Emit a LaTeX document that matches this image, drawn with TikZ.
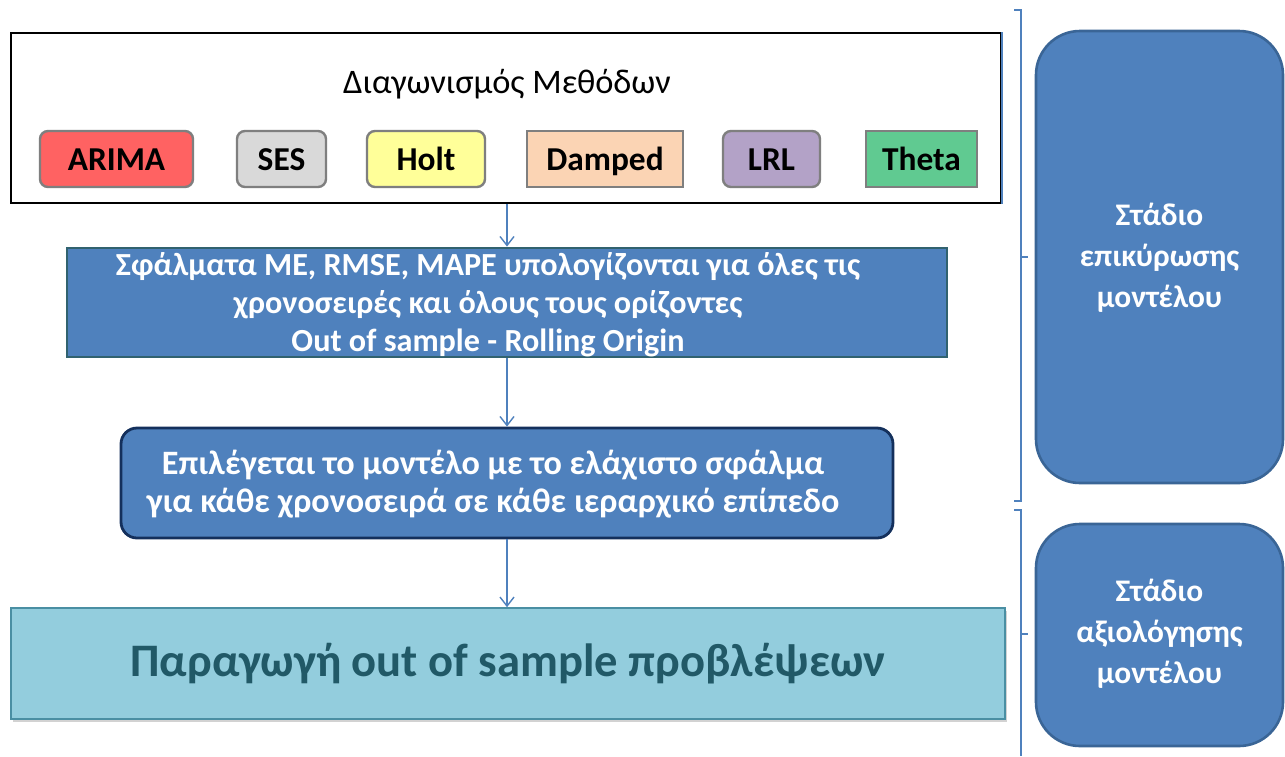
\documentclass[tikz,border=0pt]{standalone}
\usepackage{fontspec}
\setmainfont{Carlito}
\usetikzlibrary{arrows.meta,shadows}
\definecolor{stageblue}{HTML}{4F81BD}
\definecolor{stageedge}{HTML}{3A6596}
\definecolor{tealedge}{HTML}{31626F}
\definecolor{navyedge}{HTML}{14305C}
\definecolor{outfill}{HTML}{93CDDD}
\definecolor{outedge}{HTML}{4A8FA3}
\definecolor{outtext}{HTML}{215967}
\definecolor{methedge}{HTML}{7F7F7F}
\definecolor{arimafill}{HTML}{FF6262}
\definecolor{sesfill}{HTML}{D9D9D9}
\definecolor{holtfill}{HTML}{FFFF99}
\definecolor{dampfill}{HTML}{FBD4B4}
\definecolor{lrlfill}{HTML}{B3A2C7}
\definecolor{thetafill}{HTML}{60CA91}
\tikzset{
  x=0.5pt, y=-0.5pt,
  method/.style={draw=methedge, line width=1.2pt, rounded corners=4pt, inner sep=0pt,
    minimum height=28pt, text height=11pt, text depth=0pt,
    font=\fontsize{16.7}{18}\selectfont\bfseries, text=black},
  squaremethod/.style={method, rounded corners=0pt, line width=0.8pt},
  conn/.style={draw=stageblue, line width=0.7pt, -{Straight Barb[length=4.5pt,width=7pt]}},
  bracketline/.style={draw=stageblue, line width=0.8pt},
  stagebox/.style={draw=stageedge, fill=stageblue, line width=1.3pt, rounded corners=22pt,
    minimum width=123.5pt, inner sep=0pt},
  stagetext/.style={text=white, align=center, font=\fontsize{15.7}{20.5}\selectfont\bfseries},
  flowtext/.style={text=white, align=center, font=\fontsize{16.1}{19}\selectfont\bfseries},
}
\begin{document}
\begin{tikzpicture}
\useasboundingbox (0,0) rectangle (1285,756);
\fill[white] (0,0) rectangle (1285,756);

% method competition panel
\node[draw=black, line width=0.8pt, minimum width=495pt, minimum height=85pt, inner sep=0pt] (panel) at (506,118) {};
\draw[stageblue, line width=0.8pt] (panel.north east) -- (panel.south east);
\node[font=\fontsize{17.2}{20}\selectfont] (title) at (507,84) {Διαγωνισμός Μεθόδων};

\node[method, fill=arimafill, minimum width=76.5pt] (arima) at (116.5,159) {ARIMA};
\node[method, fill=sesfill, minimum width=44.5pt] (ses) at (281.5,159) {SES};
\node[method, fill=holtfill, minimum width=59pt] (holt) at (426,159) {Holt};
\node[squaremethod, fill=dampfill, minimum width=78pt] (damped) at (605,159) {Damped};
\node[method, fill=lrlfill, minimum width=48.5pt] (lrl) at (771.5,159) {LRL};
\node[squaremethod, fill=thetafill, minimum width=55.5pt] (theta) at (921.5,159) {Theta};

% error computation step
\node[draw=tealedge, fill=stageblue, line width=1.4pt, minimum width=440pt, minimum height=54.5pt, inner sep=0pt] (errors) at (507,302.5) {};
\node[flowtext] (errtext) at (488,305) {Σφάλματα ME, RMSE, MAPE υπολογίζονται για όλες τις\\χρονοσειρές και όλους τους ορίζοντες\\Out of sample - Rolling Origin};

% model selection step
\node[draw=navyedge, fill=stageblue, line width=1.4pt, rounded corners=8pt, minimum width=386pt, minimum height=55pt, inner sep=0pt] (select) at (507,483) {};
\node[flowtext, font=\fontsize{17.1}{19}\selectfont\bfseries] (seltext) at (493,484) {Επιλέγεται το μοντέλο με το ελάχιστο σφάλμα\\για κάθε χρονοσειρά σε κάθε ιεραρχικό επίπεδο};

% forecast production step
\node[draw=outedge, fill=outfill, line width=0.8pt, minimum width=497pt, minimum height=55.5pt, inner sep=0pt,
  drop shadow={shadow xshift=1pt, shadow yshift=-1.5pt, opacity=0.35}] (produce) at (508,663.5) {};
\node[text=outtext, font=\fontsize{23.3}{26}\selectfont\bfseries] (prodtext) at (508,664) {Παραγωγή out of sample προβλέψεων};

% connectors
\draw[conn] (panel.south -| errors.north) -- (errors.north);
\draw[conn] (errors.south) -- (select.north);
\draw[conn] (select.south) -- (select.south |- produce.north);

% stage brackets
\coordinate (b1top) at (1021,10);
\coordinate (b1bot) at (1021,501);
\coordinate (b1mid) at (1021,257);
\coordinate (b2top) at (1021,510);
\coordinate (b2bot) at (1021,756);
\coordinate (b2mid) at (1021,634);
\draw[bracketline] ([xshift=-3.5pt]b1top) -- (b1top) -- (b1bot) -- ([xshift=-3.5pt]b1bot);
\draw[bracketline] (b1mid) -- ([xshift=3.5pt]b1mid);
\draw[bracketline] ([xshift=-3.5pt]b2top) -- (b2top) -- (b2bot);
\draw[bracketline] (b2mid) -- ([xshift=3.5pt]b2mid);

% stage labels
\node[stagebox, minimum height=226pt] (validate) at (1159.5,257) {};
\node[stagetext] (valtext) at (1159.5,258) {Στάδιο\\επικύρωσης\\μοντέλου};
\node[stagebox, minimum height=111pt] (evaluate) at (1159.5,635) {};
\node[stagetext] (evaltext) at (1159.5,634) {Στάδιο\\αξιολόγησης\\μοντέλου};
\end{tikzpicture}
\end{document}
